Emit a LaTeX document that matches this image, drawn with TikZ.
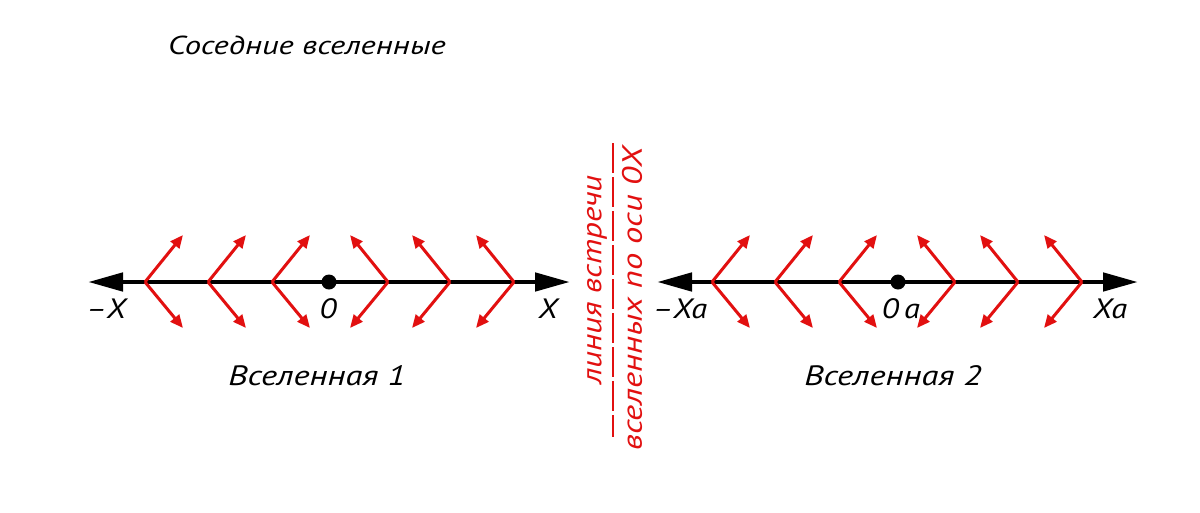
\documentclass[tikz,border=0pt]{standalone}
\usepackage{fontspec}
\setmainfont{PT Sans}
\usetikzlibrary{arrows.meta}
\definecolor{redl}{RGB}{226,16,16}
\newcommand\hsc[2]{\scalebox{#1}[1]{#2}}
\begin{document}
\begin{tikzpicture}[x=1pt,y=-1pt,
  axis/.style={line width=4.8pt, black, {Triangle[length=35pt,width=18pt]}-{Triangle[length=35pt,width=18pt]}},
  ray/.style={line width=3pt, redl, -{Triangle[length=13pt,width=11pt]}},
  lbl/.style={font=\fontsize{28}{28}\selectfont\itshape, inner sep=0pt},
  ttl/.style={font=\fontsize{26}{26}\selectfont\itshape, inner sep=0pt},
  vlbl/.style={font=\fontsize{28}{28}\selectfont\itshape, inner sep=0pt, text=redl, rotate=90},
  origin/.style={circle, fill=black, minimum size=15pt, inner sep=0pt},
  sep/.style={redl, line width=2.2pt, dash pattern=on 30pt off 4pt}]
\useasboundingbox (0,0) rectangle (1200,512);
\fill[white] (0,0) rectangle (1200,512);
% title
\node[ttl] (title) at (307,45) {\hsc{1.255}{Соседние вселенные}};
% universe 1
\coordinate (a1l) at (88,282);
\coordinate (a1r) at (570,282);
\draw[axis] (a1l) -- (a1r);
\foreach \v [count=\i] in {145,208,272}{
  \coordinate (p1l\i) at (\v,282);
  \coordinate (p1l\i u) at (\v+38,235);
  \coordinate (p1l\i d) at (\v+38,328);
  \draw[ray] (p1l\i) -- (p1l\i u);
  \draw[ray] (p1l\i) -- (p1l\i d);
}
\foreach \v [count=\i] in {388,450,514}{
  \coordinate (p1r\i) at (\v,282);
  \coordinate (p1r\i u) at (\v-38,235);
  \coordinate (p1r\i d) at (\v-38,328);
  \draw[ray] (p1r\i) -- (p1r\i u);
  \draw[ray] (p1r\i) -- (p1r\i d);
}
\node[origin] (o1) at (329,282) {};
\node[lbl] (mx1) at (106,309) {\hsc{1.16}{–X}};
\node[lbl] (z1) at (328,309) {\hsc{1.16}{0}};
\node[lbl] (x1) at (548,309) {\hsc{1.16}{X}};
\node[lbl] (u1) at (317,376) {\hsc{1.235}{Вселенная 1}};
% universe 2
\coordinate (a2l) at (657,282);
\coordinate (a2r) at (1138,282);
\draw[axis] (a2l) -- (a2r);
\foreach \v [count=\i] in {712,775,839}{
  \coordinate (p2l\i) at (\v,282);
  \coordinate (p2l\i u) at (\v+38,235);
  \coordinate (p2l\i d) at (\v+38,328);
  \draw[ray] (p2l\i) -- (p2l\i u);
  \draw[ray] (p2l\i) -- (p2l\i d);
}
\foreach \v [count=\i] in {955,1018,1082}{
  \coordinate (p2r\i) at (\v,282);
  \coordinate (p2r\i u) at (\v-38,235);
  \coordinate (p2r\i d) at (\v-38,328);
  \draw[ray] (p2r\i) -- (p2r\i u);
  \draw[ray] (p2r\i) -- (p2r\i d);
}
\node[origin] (o2) at (898,282) {};
\node[lbl] (mx2) at (680,309) {\hsc{1.16}{–Xa}};
\node[lbl] (z2) at (901,309) {\hsc{1.16}{0\,a}};
\node[lbl] (x2) at (1110,309) {\hsc{1.16}{Xa}};
\node[lbl] (u2) at (893,376) {\hsc{1.235}{Вселенная 2}};
% meeting line
\node[vlbl] (m1) at (597,280) {\hsc{1.18}{линия встречи}};
\node[vlbl] (m2) at (632,299) {\hsc{1.235}{вселенных по оси 0X}};
\coordinate (sT) at (613,143);
\coordinate (sB) at (613,437);
\draw[sep] (sT) -- (sB);
\end{tikzpicture}
\end{document}
